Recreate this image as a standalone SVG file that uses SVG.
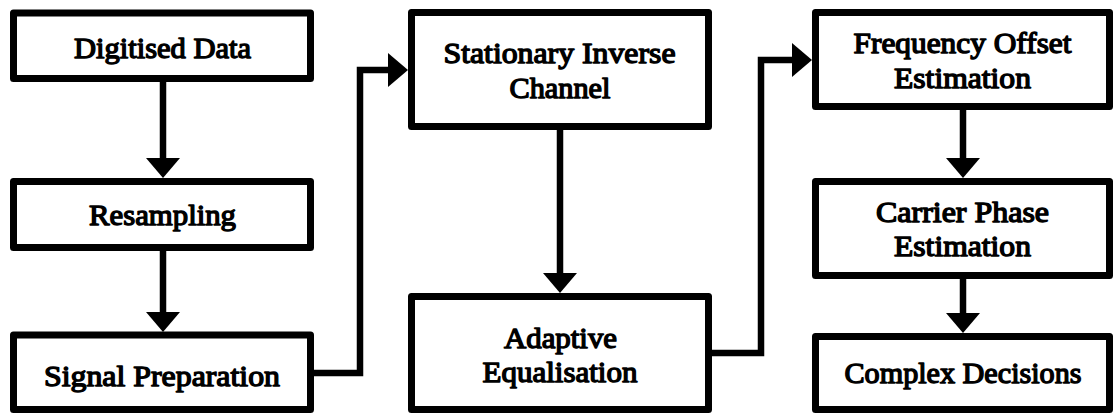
<svg xmlns="http://www.w3.org/2000/svg" width="1114" height="414" viewBox="0 0 1114 414">
  <style>
    .box { fill: #ffffff; stroke: #000000; stroke-width: 7; stroke-linejoin: round; }
    /* regular serif face thickened with a thin outline for a heavy look */
    .lbl { font-family: "Liberation Serif", "Times New Roman", serif; font-weight: normal; font-size: 30px; fill: #000000; stroke: #000000; stroke-width: 1.4; stroke-linejoin: round; text-anchor: middle; }
    .wire { fill: none; stroke: #000000; stroke-width: 6.5; stroke-linejoin: miter; marker-end: url(#head); }
  </style>
  <defs>
    <marker id="head" markerUnits="userSpaceOnUse" viewBox="0 0 20 34" markerWidth="20" markerHeight="34" refX="10" refY="17" orient="auto">
      <path d="M0,0 L20,17 L0,34 Z" fill="#000000"/>
    </marker>
  </defs>
  <rect width="1114" height="414" fill="#ffffff"/>

  <g id="connectors">
    <path class="wire" d="M163,82 V168"/>
    <path class="wire" d="M163,251 V322"/>
    <path class="wire" d="M314,373 H360 V70 H398"/>
    <path class="wire" d="M560,130 V283"/>
    <path class="wire" d="M712,353 H761 V60 H802"/>
    <path class="wire" d="M963,110 V168"/>
    <path class="wire" d="M963,279 V323"/>
  </g>

  <g id="digitised-data">
    <rect class="box" x="13.5" y="13" width="297" height="65.5"/>
    <text class="lbl" x="162.5" y="58" textLength="177" lengthAdjust="spacingAndGlyphs">Digitised Data</text>
  </g>
  <g id="resampling">
    <rect class="box" x="13.5" y="181.5" width="297" height="66"/>
    <text class="lbl" x="162.5" y="225" textLength="147" lengthAdjust="spacingAndGlyphs">Resampling</text>
  </g>
  <g id="signal-preparation">
    <rect class="box" x="13.5" y="335" width="297" height="74.5"/>
    <text class="lbl" x="162" y="386" textLength="236" lengthAdjust="spacingAndGlyphs">Signal Preparation</text>
  </g>

  <g id="stationary-inverse-channel">
    <rect class="box" x="411.5" y="12.5" width="297" height="114"/>
    <text class="lbl" x="559.5" y="63" textLength="232" lengthAdjust="spacingAndGlyphs">Stationary Inverse</text>
    <text class="lbl" x="560" y="98" textLength="101" lengthAdjust="spacingAndGlyphs">Channel</text>
  </g>
  <g id="adaptive-equalisation">
    <rect class="box" x="411.5" y="296.5" width="297" height="113"/>
    <text class="lbl" x="560.5" y="348" textLength="113" lengthAdjust="spacingAndGlyphs">Adaptive</text>
    <text class="lbl" x="560" y="382" textLength="155" lengthAdjust="spacingAndGlyphs">Equalisation</text>
  </g>

  <g id="frequency-offset-estimation">
    <rect class="box" x="815.5" y="12.5" width="294" height="94"/>
    <text class="lbl" x="962.5" y="53" textLength="218" lengthAdjust="spacingAndGlyphs">Frequency Offset</text>
    <text class="lbl" x="962.5" y="88" textLength="137" lengthAdjust="spacingAndGlyphs">Estimation</text>
  </g>
  <g id="carrier-phase-estimation">
    <rect class="box" x="815.5" y="181.5" width="294" height="94"/>
    <text class="lbl" x="962.5" y="222" textLength="173" lengthAdjust="spacingAndGlyphs">Carrier Phase</text>
    <text class="lbl" x="962.5" y="256" textLength="137" lengthAdjust="spacingAndGlyphs">Estimation</text>
  </g>
  <g id="complex-decisions">
    <rect class="box" x="815.5" y="336.5" width="294" height="73"/>
    <text class="lbl" x="963" y="383" textLength="237" lengthAdjust="spacingAndGlyphs">Complex Decisions</text>
  </g>
</svg>
